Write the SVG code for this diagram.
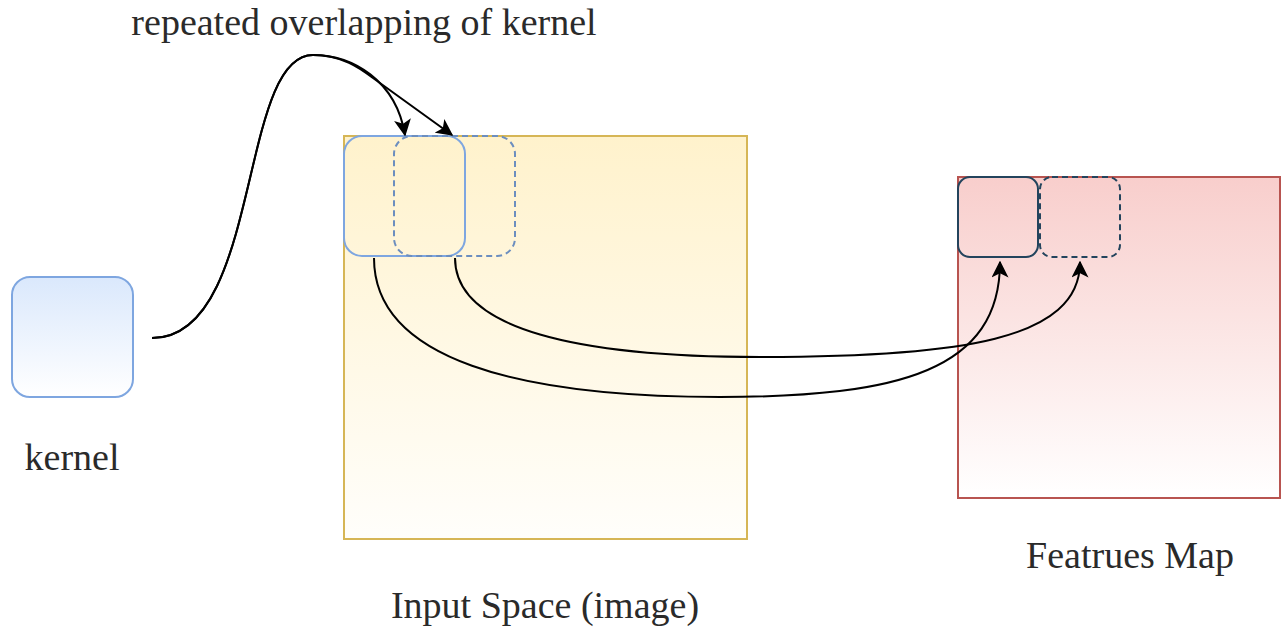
<svg xmlns="http://www.w3.org/2000/svg" width="1281" height="629" viewBox="0 0 1281 629">
  <style>
    .label { font-family: "Liberation Serif", "Times New Roman", serif; font-size: 38px; fill: #2a2a2a; text-anchor: middle; }
    .edge { fill: none; stroke: #000; stroke-width: 2; }
    .kbox { fill: none; stroke: #7ea6e0; stroke-width: 2; }
    .kdash { fill: none; stroke: #6c8ebf; stroke-width: 2; stroke-dasharray: 6 4; }
    .fbox { fill: none; stroke: #23445d; stroke-width: 2; }
    .fdash { fill: none; stroke: #23445d; stroke-width: 2; stroke-dasharray: 6 4; }
  </style>
  <defs>
    <linearGradient id="gBlue" x1="0" y1="0" x2="0" y2="1">
      <stop offset="0" stop-color="#dae8fc"/>
      <stop offset="1" stop-color="#ffffff"/>
    </linearGradient>
    <linearGradient id="gYellow" x1="0" y1="0" x2="0" y2="1">
      <stop offset="0" stop-color="#fff2cc"/>
      <stop offset="1" stop-color="#fffefb"/>
    </linearGradient>
    <linearGradient id="gRed" x1="0" y1="0" x2="0" y2="1">
      <stop offset="0" stop-color="#f8cecc"/>
      <stop offset="1" stop-color="#ffffff"/>
    </linearGradient>
    <marker id="arrow" viewBox="0 0 12 12" refX="11" refY="6" markerWidth="17" markerHeight="17" markerUnits="userSpaceOnUse" orient="auto">
      <path d="M0,0 L12,6 L0,12 L3,6 Z" fill="#000"/>
    </marker>
  </defs>

  <!-- kernel -->
  <g id="kernel">
    <rect x="12" y="277" width="121" height="120" rx="18" fill="url(#gBlue)" stroke="#7ea6e0" stroke-width="2"/>
    <text class="label" x="72" y="470">kernel</text>
  </g>

  <!-- input space with two kernel positions -->
  <g id="input-space">
    <rect x="344" y="136" width="403" height="403" fill="url(#gYellow)" stroke="#d6b656" stroke-width="2"/>
    <text class="label" x="545" y="618">Input Space (image)</text>
  </g>
  <g id="input-kernel-1">
    <rect class="kbox" x="344" y="136" width="121" height="120" rx="18"/>
  </g>
  <g id="input-kernel-2">
    <rect class="kdash" x="394" y="136" width="121" height="120" rx="18"/>
  </g>

  <!-- feature map with two output cells -->
  <g id="feature-map">
    <rect x="958" y="177" width="322" height="321" fill="url(#gRed)" stroke="#b85450" stroke-width="2"/>
    <text class="label" x="1130" y="568">Featrues Map</text>
  </g>
  <g id="feature-cell-1">
    <rect class="fbox" x="958" y="177" width="80" height="80" rx="12"/>
  </g>
  <g id="feature-cell-2">
    <rect class="fdash" x="1040" y="177" width="80" height="80" rx="12"/>
  </g>

  <g id="title">
    <text class="label" x="364" y="35">repeated overlapping of kernel</text>
  </g>

  <!-- connectors -->
  <g id="connectors">
    <path class="edge" marker-end="url(#arrow)" d="M152,338 C262,338 238,55 313,55 C352,55 396,80 405,135"/>
    <path class="edge" marker-end="url(#arrow)" d="M152,338 C262,338 238,55 313,55 C342,55 360,68 373,78 L452,135"/>
    <path class="edge" marker-end="url(#arrow)" d="M374,258 C374,360 520,397 720,397 C900,397 1000,370 1000,262"/>
    <path class="edge" marker-end="url(#arrow)" d="M455,258 C455,330 580,357 760,357 C960,357 1080,340 1080,262"/>
  </g>
</svg>
